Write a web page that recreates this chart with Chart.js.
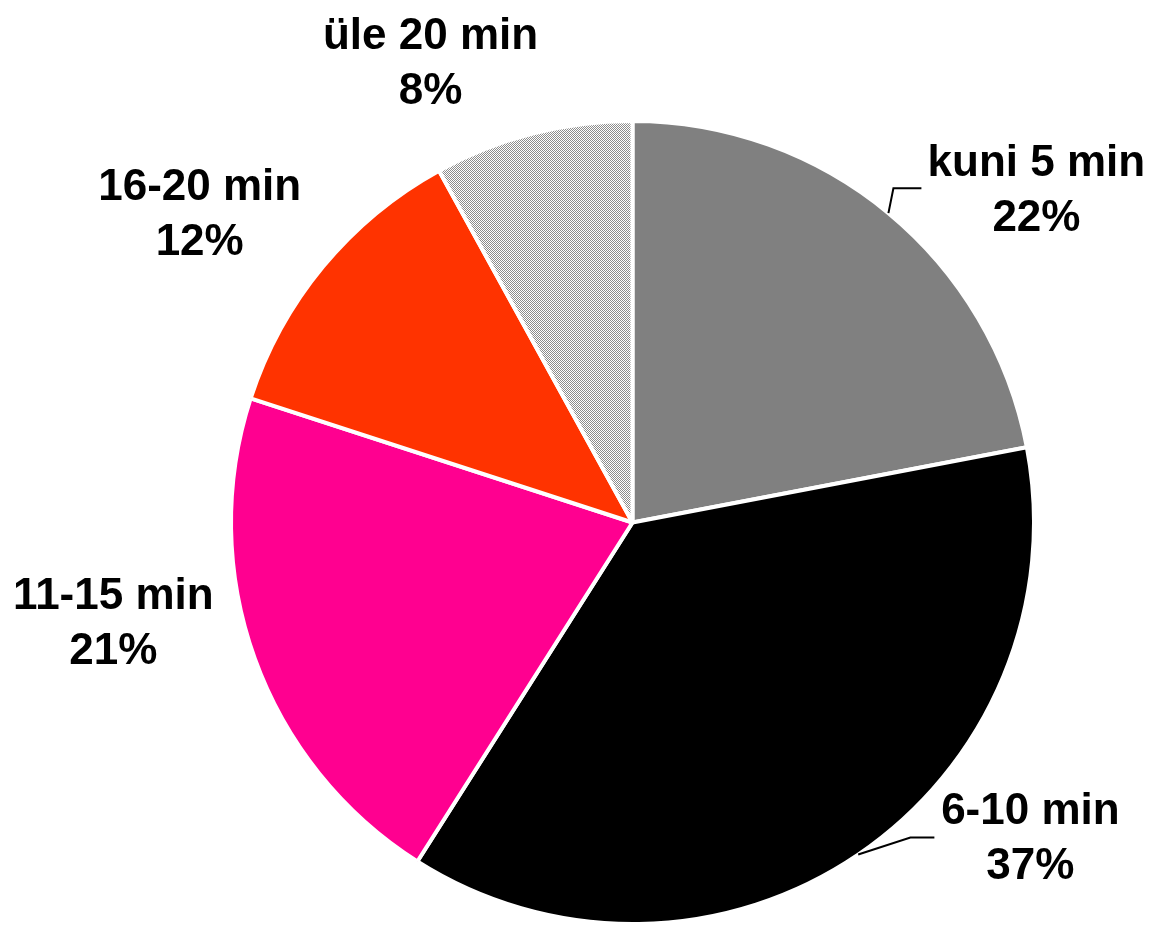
<!DOCTYPE html>
<html>
<head>
<meta charset="utf-8">
<script src="https://cdn.jsdelivr.net/npm/chart.js@4/dist/chart.umd.min.js"></script>
<style>
  html, body { margin: 0; padding: 0; background: #fff; }
  #pie { display: block; }
</style>
</head>
<body>
<canvas id="pie" width="1151" height="926"></canvas>
<script>
const categories = ['kuni 5 min', '6-10 min', '11-15 min', '16-20 min', 'üle 20 min'];
const shares = [22, 37, 21, 12, 8];

// fine diagonal hatch for the last slice
function hatch() {
  const c = document.createElement('canvas');
  c.width = 4; c.height = 4;
  const g = c.getContext('2d');
  g.fillStyle = '#ffffff';
  g.fillRect(0, 0, 4, 4);
  g.fillStyle = '#8c8c8c';
  for (let x = 0; x < 4; x++) {
    for (let y = 0; y < 4; y++) {
      if ((x + y) % 2 === 0) g.fillRect(x, y, 1, 1);
    }
  }
  return g.createPattern(c, 'repeat');
}

const colors = ['#808080', '#000000', '#ff0090', '#ff3300', hatch()];

// label anchors, in radius units from the pie centre
const labelPos = [[1.006, -0.825], [0.991, 0.787], [-1.293, 0.252], [-1.078, -0.765], [-0.503, -1.143]];
// elbow of the leader line, px relative to label centre (null = no leader)
const leaders = [[-143, -3, -115], [-120, -1, -96], null, null, null];

const sliceLabels = {
  id: 'sliceLabels',
  afterDatasetsDraw(chart) {
    const ctx = chart.ctx;
    const arcs = chart.getDatasetMeta(0).data;
    ctx.save();
    ctx.font = 'bold 44px "Liberation Sans", Arial, sans-serif';
    ctx.fillStyle = '#000';
    ctx.textAlign = 'center';
    ctx.textBaseline = 'middle';
    arcs.forEach((arc, i) => {
      const r = arc.outerRadius;
      const lx = arc.x + labelPos[i][0] * r;
      const ly = arc.y + labelPos[i][1] * r;
      ctx.fillText(categories[i], lx, ly - 27);
      ctx.fillText(shares[i] + '%', lx, ly + 28);
      const ld = leaders[i];
      if (ld) {
        const mid = (arc.startAngle + arc.endAngle) / 2;
        ctx.beginPath();
        ctx.lineWidth = 2;
        ctx.strokeStyle = '#000';
        ctx.moveTo(arc.x + Math.cos(mid) * r, arc.y + Math.sin(mid) * r);
        ctx.lineTo(lx + ld[0], ly + ld[1]);
        ctx.lineTo(lx + ld[2], ly + ld[1]);
        ctx.stroke();
      }
    });
    ctx.restore();
  }
};

new Chart(document.getElementById('pie'), {
  type: 'pie',
  data: {
    labels: categories,
    datasets: [{
      data: shares,
      backgroundColor: colors,
      borderColor: '#ffffff',
      borderWidth: 4
    }]
  },
  options: {
    responsive: false,
    animation: false,
    layout: { padding: { top: 119, left: 228, right: 114, bottom: 0 } },
    plugins: {
      legend: { display: false },
      tooltip: { enabled: false }
    }
  },
  plugins: [sliceLabels]
});
</script>
</body>
</html>
